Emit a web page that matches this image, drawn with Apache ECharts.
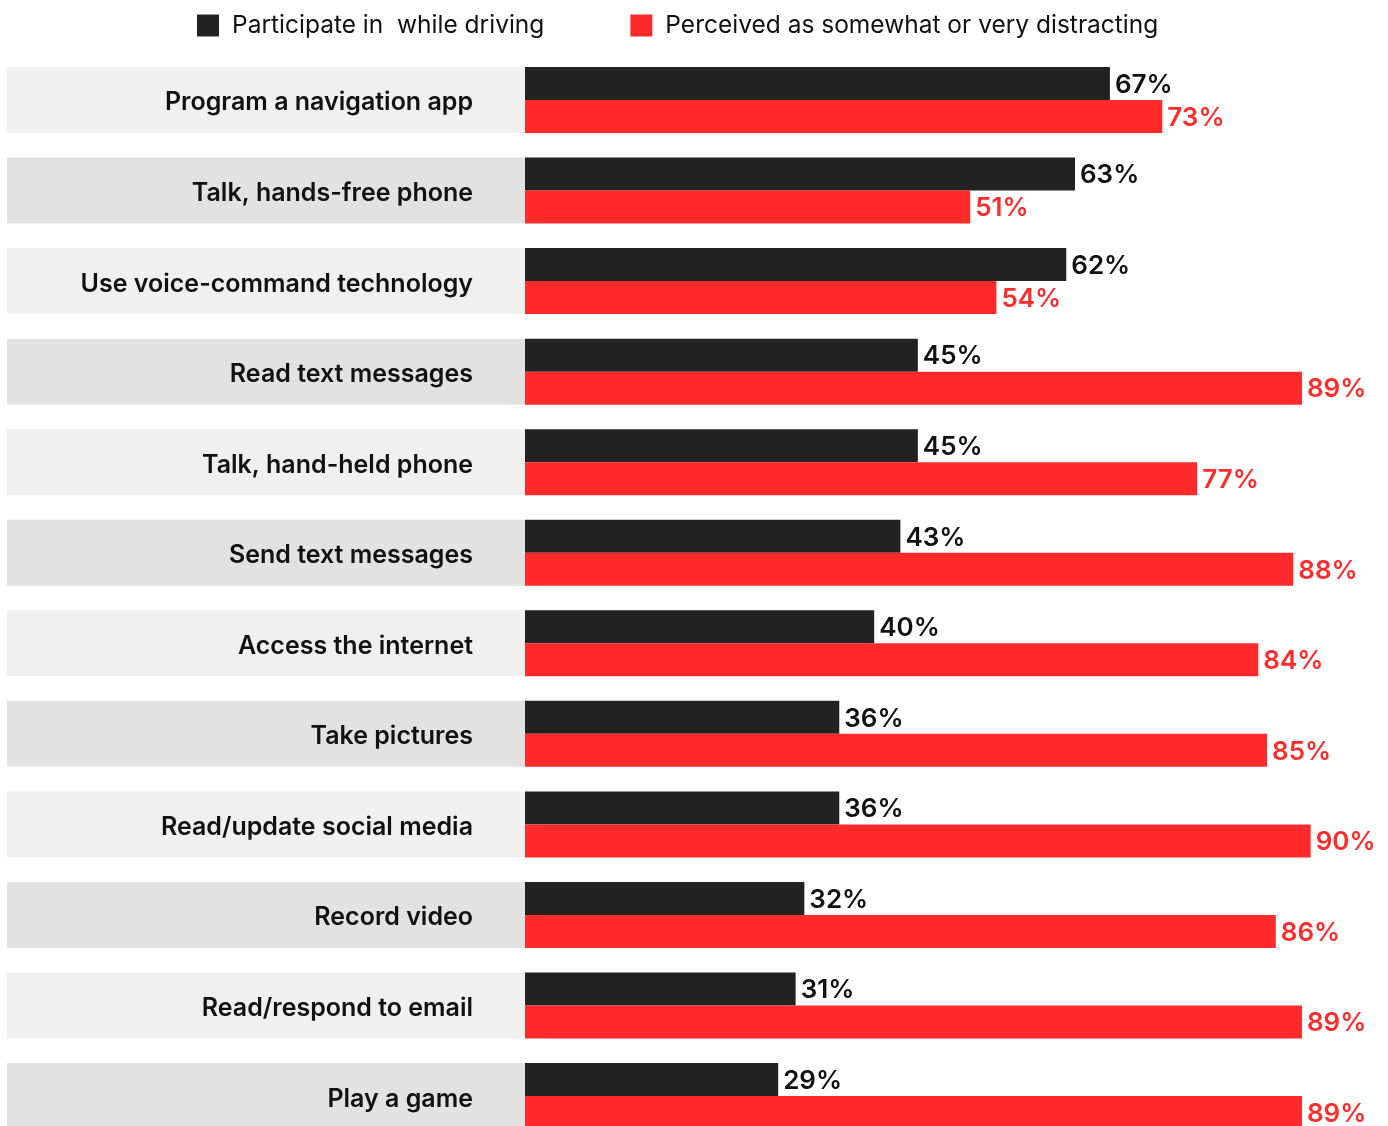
<!DOCTYPE html>
<html>
<head>
<meta charset="utf-8">
<script src="https://cdn.jsdelivr.net/npm/echarts@6/dist/echarts.min.js"></script>
<style>
  html, body { margin: 0; padding: 0; background: #ffffff; }
  #chart { width: 1388px; height: 1126px; }
</style>
</head>
<body>
<div id="chart"></div>
<script>
// Activities, top to bottom
const activities = [
  'Program a navigation app',
  'Talk, hands-free phone',
  'Use voice-command technology',
  'Read text messages',
  'Talk, hand-held phone',
  'Send text messages',
  'Access the internet',
  'Take pictures',
  'Read/update social media',
  'Record video',
  'Read/respond to email',
  'Play a game'
];
// Share of drivers who do it (%)
const participate = [67, 63, 62, 45, 45, 43, 40, 36, 36, 32, 31, 29];
// Share who find it somewhat or very distracting (%)
const distracting = [73, 51, 54, 89, 77, 88, 84, 85, 90, 86, 89, 89];

const seriesNames = ['Participate in  while driving', 'Perceived as somewhat or very distracting'];

const FONT = 'Inter';
const BLACK = '#222222';
const RED = '#ff2a2a';
const bandColors = ['#f0f0f0', '#e2e2e2'];

const TOP = 54.7;
const HEIGHT = 1086.6;

const chart = echarts.init(document.getElementById('chart'), null, { renderer: 'canvas' });

chart.setOption({
  animation: false,
  backgroundColor: '#ffffff',
  textStyle: { fontFamily: FONT },
  legend: {
    left: 197,
    top: 13,
    padding: 0,
    icon: 'rect',
    itemWidth: 22,
    itemHeight: 22,
    itemGap: 86,
    selectedMode: false,
    data: seriesNames,
    textStyle: { fontFamily: FONT, fontSize: 24.5, color: '#111111', padding: [0, 0, 0, 8] }
  },
  grid: [
    { left: 525, top: TOP, width: 873, height: HEIGHT, outerBoundsMode: 'none' },
    { left: 7, top: TOP, width: 518, height: HEIGHT, outerBoundsMode: 'none' }
  ],
  xAxis: [
    { gridIndex: 0, type: 'value', min: 0, max: 100, show: false },
    { gridIndex: 1, type: 'value', min: 0, max: 1, show: false }
  ],
  yAxis: [
    { gridIndex: 0, type: 'category', inverse: true, data: activities, show: false },
    { gridIndex: 1, type: 'category', inverse: true, data: activities, show: false }
  ],
  series: [
    {
      name: seriesNames[0],
      type: 'bar',
      xAxisIndex: 0, yAxisIndex: 0,
      data: participate,
      barWidth: 33,
      barGap: '0%',
      itemStyle: { color: BLACK },
      label: {
        show: true, position: 'right', distance: 5,
        offset: [0, 1.5],
        formatter: '{c}%',
        fontFamily: FONT, fontSize: 26, fontWeight: 600, color: '#111111'
      }
    },
    {
      name: seriesNames[1],
      type: 'bar',
      xAxisIndex: 0, yAxisIndex: 0,
      data: distracting,
      barWidth: 33,
      barGap: '0%',
      itemStyle: { color: RED },
      label: {
        show: true, position: 'right', distance: 5,
        offset: [0, 1.5],
        formatter: '{c}%',
        fontFamily: FONT, fontSize: 26, fontWeight: 600, color: RED
      }
    },
    {
      // Shaded label bands behind the activity names
      name: 'bands',
      type: 'bar',
      xAxisIndex: 1, yAxisIndex: 1,
      data: activities.map((a, i) => ({ value: 1, itemStyle: { color: bandColors[i % 2] } })),
      barWidth: 66,
      silent: true,
      label: {
        show: true, position: 'insideRight', distance: 52,
        offset: [0, 3],
        formatter: (p) => p.name,
        fontFamily: FONT, fontSize: 25, fontWeight: 600, color: '#111111'
      }
    }
  ]
});
</script>
</body>
</html>
